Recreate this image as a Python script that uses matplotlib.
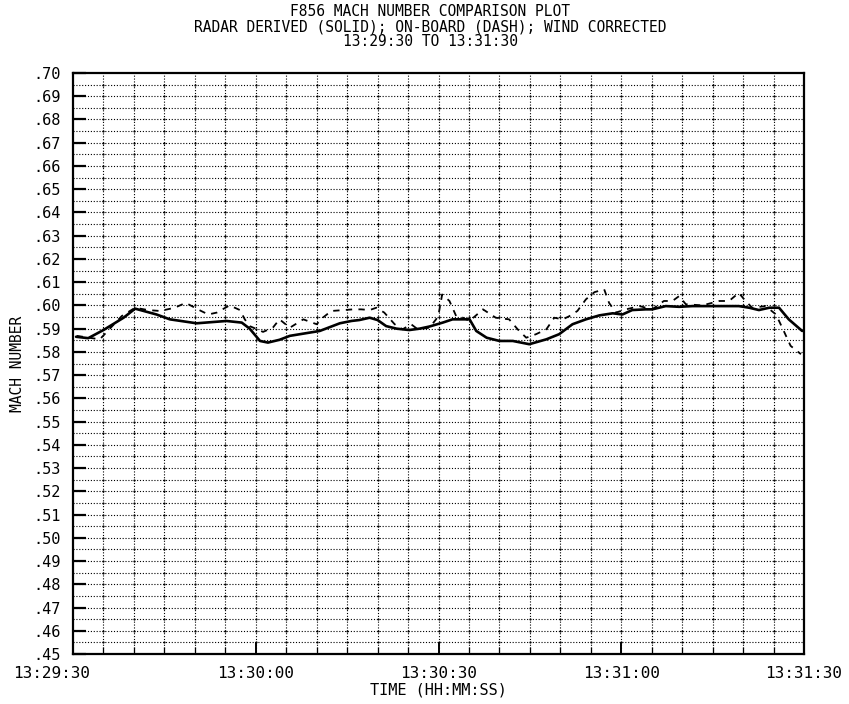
import numpy as np
import matplotlib
matplotlib.use("Agg")
import matplotlib.pyplot as plt
from matplotlib.transforms import ScaledTranslation

# time in seconds after 13:29:30
radar_t = [0.5, 2.5, 5.0, 8.3, 10.2, 13.7, 15.9, 20.3, 25.2, 27.7, 29.0, 30.7, 32.0,
           33.9, 35.6, 40.5, 42.4, 43.8, 45.7, 47.0, 48.7, 50.0, 51.4, 53.1, 55.2,
           56.9, 58.5, 60.7, 62.3, 63.7, 65.1, 66.2, 67.9, 70.0, 72.2, 74.9, 77.7,
           79.8, 82.0, 84.2, 86.4, 88.6, 90.2, 91.8, 94.0, 95.1, 97.3, 99.5, 101.7,
           105.0, 109.3, 111.0, 112.6, 114.3, 115.9, 117.5, 119.7]
radar_mach = [.5865, .5859, .5894, .5947, .5986, .5961, .5940, .5923, .5933, .5926,
              .5900, .5847, .5840, .5852, .5869, .5890, .5909, .5923, .5933, .5937,
              .5947, .5937, .5911, .5900, .5894, .5900, .5909, .5926, .5940, .5940,
              .5940, .5890, .5861, .5847, .5847, .5833, .5854, .5876, .5919, .5940,
              .5957, .5966, .5961, .5980, .5983, .5983, .5997, .5994, .5997, .5997,
              .5997, .5990, .5980, .5990, .5990, .5940, .5890]

onboard_t = [0.6, 4.4, 8.0, 10.2, 12.3, 14.3, 16.7, 18.5, 20.8, 22.2, 23.6, 25.7,
             27.4, 28.2, 29.0, 31.2, 32.8, 33.9, 35.6, 37.8, 40.0, 41.0, 42.4, 46.0,
             47.3, 48.7, 49.8, 51.1, 52.8, 54.1, 55.5, 56.6, 58.5, 59.6, 60.0, 60.6,
             61.8, 62.9, 64.0, 65.1, 67.3, 69.4, 71.6, 73.0, 74.4, 76.0, 77.7, 79.0,
             80.4, 81.5, 82.8, 84.2, 85.6, 87.2, 88.0, 89.1, 90.8, 93.0, 95.1, 97.0,
             98.4, 99.5, 100.6, 103.3, 106.1, 107.7, 109.3, 110.4, 111.5, 113.7,
             115.4, 116.5, 117.8, 119.5]
onboard_mach = [.5869, .5854, .5954, .5990, .5980, .5976, .5990, .6011, .5979, .5961,
                .5969, .6000, .5980, .5940, .5911, .5886, .5904, .5940, .5904, .5940,
                .5919, .5947, .5976, .5983, .5983, .5980, .5990, .5969, .5919, .5897,
                .5919, .5897, .5904, .5940, .5960, .6047, .6019, .5954, .5947, .5933,
                .5983, .5947, .5940, .5897, .5861, .5876, .5897, .5947, .5940, .5954,
                .5976, .6026, .6057, .6069, .6011, .5969, .5983, .5997, .5983, .6019,
                .6019, .6040, .6005, .6000, .6019, .6019, .6054, .6019, .5990, .5997,
                .5961, .5900, .5826, .5790]

x_ticks = [0, 30, 60, 90, 120]
x_tick_labels = ["13:29:30", "13:30:00", "13:30:30", "13:31:00", "13:31:30"]
y_ticks = np.round(np.arange(0.45, 0.7001, 0.01), 2)
y_tick_labels = [f"{v:.2f}"[1:] for v in y_ticks]

title_lines = ["F856 MACH NUMBER COMPARISON PLOT",
               "RADAR DERIVED (SOLID); ON-BOARD (DASH); WIND CORRECTED",
               "13:29:30 TO 13:31:30"]

mono = "DejaVu Sans Mono"
plt.rcParams["font.family"] = [mono, "DejaVu Sans"]

fig = plt.figure(figsize=(8.49, 7.04), dpi=100)
ax = fig.add_axes([73 / 849, 1 - 654 / 704, 731 / 849, 581 / 704])

# dotted grid, every 5 s and every .005
grid_x = np.arange(5, 120, 5)
grid_y = np.round(np.arange(0.455, 0.70, 0.005), 3)
for gx in grid_x:
    ax.axvline(gx, color="black", lw=0.8, ls=(0, (1, 1.6)), zorder=1)
for gy in grid_y:
    ax.axhline(gy, color="black", lw=0.8, ls=(0, (1, 1.6)), zorder=1)
gxx, gyy = np.meshgrid(grid_x, grid_y)
ax.scatter(gxx.ravel(), gyy.ravel(), s=2.5, color="black", lw=0, zorder=1)

ax.plot(radar_t, radar_mach, color="black", lw=1.9, solid_capstyle="round", zorder=3)
ax.plot(onboard_t, onboard_mach, color="black", lw=1.3, ls=(0, (3.5, 3.5)), zorder=3)

ax.set_xlim(0, 120)
ax.set_ylim(0.45, 0.70)
ax.set_xticks(x_ticks)
ax.set_xticklabels(x_tick_labels)
ax.set_xticks(grid_x, minor=True)
ax.set_yticks(y_ticks)
ax.set_yticklabels(y_tick_labels)

ax.tick_params(axis="y", direction="in", length=9, width=1.6, pad=9, labelsize=11)
ax.tick_params(axis="x", which="major", direction="in", length=9, width=1.4, pad=9,
               labelsize=11.5)
ax.tick_params(axis="x", which="minor", direction="in", length=5, width=0.9)
ax.tick_params(top=False, right=False)

# first time label sits left of the axis corner
first = ax.get_xticklabels()[0]
first.set_transform(first.get_transform() + ScaledTranslation(-21 / 100, 0, fig.dpi_scale_trans))

for s in ax.spines.values():
    s.set_linewidth(1.6)
    s.set_color("black")

ax.set_xlabel("TIME (HH:MM:SS)", fontsize=11, labelpad=1)
ax.set_ylabel("MACH NUMBER", fontsize=10.5, labelpad=6)

for i, line in enumerate(title_lines):
    fig.text(430 / 849, 1 - (12 + 14.5 * i) / 704, line, ha="center", va="center",
             fontsize=10.5)

fig.savefig("out.png", dpi=100)
